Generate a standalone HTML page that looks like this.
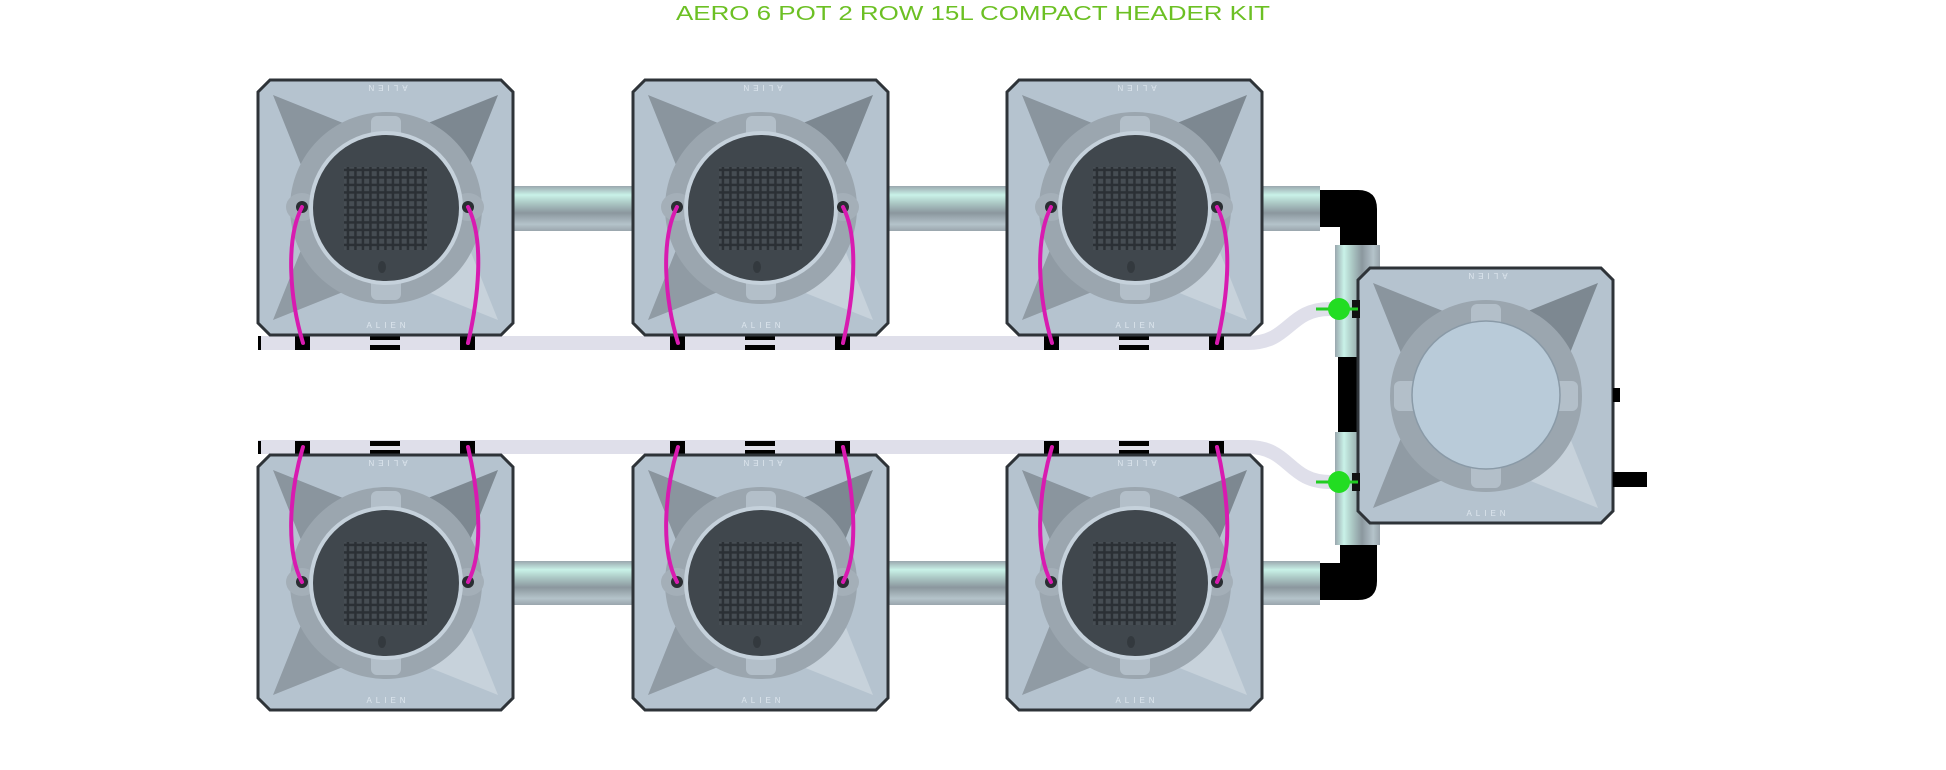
<!DOCTYPE html>
<html><head><meta charset="utf-8"><style>
html,body{margin:0;padding:0;background:#fff;width:1946px;height:770px;overflow:hidden}
svg{display:block}
</style></head><body>
<svg width="1946" height="770" viewBox="0 0 1946 770" xmlns="http://www.w3.org/2000/svg">
<defs>
<linearGradient id="ph" x1="0" y1="0" x2="0" y2="1">
<stop offset="0" stop-color="#9aa7ae"/><stop offset="0.2" stop-color="#c9f2e8"/><stop offset="0.35" stop-color="#b0cfca"/><stop offset="0.6" stop-color="#8b979e"/><stop offset="0.85" stop-color="#b4c3ca"/><stop offset="1" stop-color="#9aa6ad"/>
</linearGradient>
<linearGradient id="pv" x1="0" y1="0" x2="1" y2="0">
<stop offset="0" stop-color="#9aa7ae"/><stop offset="0.2" stop-color="#c9f2e8"/><stop offset="0.35" stop-color="#b0cfca"/><stop offset="0.6" stop-color="#8b979e"/><stop offset="0.85" stop-color="#b4c3ca"/><stop offset="1" stop-color="#9aa6ad"/>
</linearGradient>
<pattern id="grid" width="7.5" height="7.5" patternUnits="userSpaceOnUse">
<rect width="7.5" height="7.5" fill="#2b3035"/><rect x="1.2" y="1.2" width="5" height="5" fill="#464d53"/>
</pattern>
</defs>

<text x="973" y="20" text-anchor="middle" fill="#6cc024" font-family="Liberation Sans, sans-serif" font-size="20" textLength="594" lengthAdjust="spacingAndGlyphs">AERO 6 POT 2 ROW 15L COMPACT HEADER KIT</text>

<!-- pipes row1 -->
<rect x="510" y="186" width="126" height="45" fill="url(#ph)"/>
<rect x="884" y="186" width="126" height="45" fill="url(#ph)"/>
<rect x="1258" y="186" width="62" height="45" fill="url(#ph)"/>
<!-- pipes row2 -->
<rect x="510" y="561" width="126" height="44" fill="url(#ph)"/>
<rect x="884" y="561" width="126" height="44" fill="url(#ph)"/>
<rect x="1258" y="561" width="62" height="44" fill="url(#ph)"/>
<!-- elbows -->
<path d="M1320 190 H1358 Q1377 190 1377 209 V245 H1340 V227 H1320 Z" fill="#000"/>
<path d="M1320 600 H1358 Q1377 600 1377 581 V545 H1340 V563 H1320 Z" fill="#000"/>
<rect x="1338" y="355" width="22" height="78" fill="#000"/>
<rect x="1335" y="245" width="45" height="112" fill="url(#pv)"/>
<rect x="1335" y="432" width="45" height="113" fill="url(#pv)"/>

<!-- tubes -->
<path d="M258 343 H1248 C1290 343 1288 309 1330 309 H1340" fill="none" stroke="#dfdfea" stroke-width="14"/>
<path d="M258 447 H1248 C1290 447 1288 482 1330 482 H1340" fill="none" stroke="#dfdfea" stroke-width="14"/>
<rect x="258" y="336" width="3" height="14" fill="#000"/>
<rect x="258" y="441" width="3" height="13" fill="#000"/>

<!-- black fittings -->
<g fill="#000">
<rect x="295" y="336" width="15" height="14"/><rect x="460" y="336" width="15" height="14"/><rect x="370" y="336" width="30" height="4"/><rect x="370" y="345" width="30" height="5"/>
<rect x="670" y="336" width="15" height="14"/><rect x="835" y="336" width="15" height="14"/><rect x="745" y="336" width="30" height="4"/><rect x="745" y="345" width="30" height="5"/>
<rect x="1044" y="336" width="15" height="14"/><rect x="1209" y="336" width="15" height="14"/><rect x="1119" y="336" width="30" height="4"/><rect x="1119" y="345" width="30" height="5"/>
<rect x="295" y="441" width="15" height="14"/><rect x="460" y="441" width="15" height="14"/><rect x="370" y="441" width="30" height="5"/><rect x="370" y="450" width="30" height="4"/>
<rect x="670" y="441" width="15" height="14"/><rect x="835" y="441" width="15" height="14"/><rect x="745" y="441" width="30" height="5"/><rect x="745" y="450" width="30" height="4"/>
<rect x="1044" y="441" width="15" height="14"/><rect x="1209" y="441" width="15" height="14"/><rect x="1119" y="441" width="30" height="5"/><rect x="1119" y="450" width="30" height="4"/>
</g>

<!-- POTS -->
<g transform="translate(258,80)">
<polygon points="12,0 243,0 255,12 255,243 243,255 12,255 0,243 0,12" fill="#b5c3cf" stroke="#2e3338" stroke-width="3"/>
<polygon points="15,15 90,45 128,128 45,90" fill="#8a959e"/><polygon points="240,15 165,45 128,128 210,90" fill="#7d8891"/>
<polygon points="15,240 90,210 128,128 45,165" fill="#909ba4"/><polygon points="240,240 165,210 128,128 210,165" fill="#c7d2db"/>
<circle cx="128" cy="128" r="96" fill="#9ba6af"/>
<rect x="113" y="36" width="30" height="26" rx="6" fill="#b3bfc9"/><rect x="113" y="194" width="30" height="26" rx="6" fill="#b3bfc9"/>
<ellipse cx="44" cy="127" rx="16" ry="14" fill="#a4afb8"/><ellipse cx="210" cy="127" rx="16" ry="14" fill="#a4afb8"/>
<circle cx="128" cy="128" r="77" fill="#c5d1db"/><circle cx="128" cy="128" r="73" fill="#40474d"/>
<rect x="86" y="87" width="83" height="83" fill="url(#grid)"/>
<ellipse cx="124" cy="187" rx="4" ry="6" fill="#33393e"/>
<circle cx="44" cy="127" r="6" fill="#2a2e32"/><circle cx="210" cy="127" r="6" fill="#2a2e32"/>
<text x="128" y="11" transform="rotate(180 128 8)" text-anchor="middle" fill="#dde6ee" font-family="Liberation Sans, sans-serif" font-size="8" letter-spacing="4">ALIEN</text>
<text x="130" y="248" text-anchor="middle" fill="#dde6ee" font-family="Liberation Sans, sans-serif" font-size="8" letter-spacing="4">ALIEN</text>
</g>
<g transform="translate(633,80)">
<polygon points="12,0 243,0 255,12 255,243 243,255 12,255 0,243 0,12" fill="#b5c3cf" stroke="#2e3338" stroke-width="3"/>
<polygon points="15,15 90,45 128,128 45,90" fill="#8a959e"/><polygon points="240,15 165,45 128,128 210,90" fill="#7d8891"/>
<polygon points="15,240 90,210 128,128 45,165" fill="#909ba4"/><polygon points="240,240 165,210 128,128 210,165" fill="#c7d2db"/>
<circle cx="128" cy="128" r="96" fill="#9ba6af"/>
<rect x="113" y="36" width="30" height="26" rx="6" fill="#b3bfc9"/><rect x="113" y="194" width="30" height="26" rx="6" fill="#b3bfc9"/>
<ellipse cx="44" cy="127" rx="16" ry="14" fill="#a4afb8"/><ellipse cx="210" cy="127" rx="16" ry="14" fill="#a4afb8"/>
<circle cx="128" cy="128" r="77" fill="#c5d1db"/><circle cx="128" cy="128" r="73" fill="#40474d"/>
<rect x="86" y="87" width="83" height="83" fill="url(#grid)"/>
<ellipse cx="124" cy="187" rx="4" ry="6" fill="#33393e"/>
<circle cx="44" cy="127" r="6" fill="#2a2e32"/><circle cx="210" cy="127" r="6" fill="#2a2e32"/>
<text x="128" y="11" transform="rotate(180 128 8)" text-anchor="middle" fill="#dde6ee" font-family="Liberation Sans, sans-serif" font-size="8" letter-spacing="4">ALIEN</text>
<text x="130" y="248" text-anchor="middle" fill="#dde6ee" font-family="Liberation Sans, sans-serif" font-size="8" letter-spacing="4">ALIEN</text>
</g>
<g transform="translate(1007,80)">
<polygon points="12,0 243,0 255,12 255,243 243,255 12,255 0,243 0,12" fill="#b5c3cf" stroke="#2e3338" stroke-width="3"/>
<polygon points="15,15 90,45 128,128 45,90" fill="#8a959e"/><polygon points="240,15 165,45 128,128 210,90" fill="#7d8891"/>
<polygon points="15,240 90,210 128,128 45,165" fill="#909ba4"/><polygon points="240,240 165,210 128,128 210,165" fill="#c7d2db"/>
<circle cx="128" cy="128" r="96" fill="#9ba6af"/>
<rect x="113" y="36" width="30" height="26" rx="6" fill="#b3bfc9"/><rect x="113" y="194" width="30" height="26" rx="6" fill="#b3bfc9"/>
<ellipse cx="44" cy="127" rx="16" ry="14" fill="#a4afb8"/><ellipse cx="210" cy="127" rx="16" ry="14" fill="#a4afb8"/>
<circle cx="128" cy="128" r="77" fill="#c5d1db"/><circle cx="128" cy="128" r="73" fill="#40474d"/>
<rect x="86" y="87" width="83" height="83" fill="url(#grid)"/>
<ellipse cx="124" cy="187" rx="4" ry="6" fill="#33393e"/>
<circle cx="44" cy="127" r="6" fill="#2a2e32"/><circle cx="210" cy="127" r="6" fill="#2a2e32"/>
<text x="128" y="11" transform="rotate(180 128 8)" text-anchor="middle" fill="#dde6ee" font-family="Liberation Sans, sans-serif" font-size="8" letter-spacing="4">ALIEN</text>
<text x="130" y="248" text-anchor="middle" fill="#dde6ee" font-family="Liberation Sans, sans-serif" font-size="8" letter-spacing="4">ALIEN</text>
</g>
<g transform="translate(258,455)">
<polygon points="12,0 243,0 255,12 255,243 243,255 12,255 0,243 0,12" fill="#b5c3cf" stroke="#2e3338" stroke-width="3"/>
<polygon points="15,15 90,45 128,128 45,90" fill="#8a959e"/><polygon points="240,15 165,45 128,128 210,90" fill="#7d8891"/>
<polygon points="15,240 90,210 128,128 45,165" fill="#909ba4"/><polygon points="240,240 165,210 128,128 210,165" fill="#c7d2db"/>
<circle cx="128" cy="128" r="96" fill="#9ba6af"/>
<rect x="113" y="36" width="30" height="26" rx="6" fill="#b3bfc9"/><rect x="113" y="194" width="30" height="26" rx="6" fill="#b3bfc9"/>
<ellipse cx="44" cy="127" rx="16" ry="14" fill="#a4afb8"/><ellipse cx="210" cy="127" rx="16" ry="14" fill="#a4afb8"/>
<circle cx="128" cy="128" r="77" fill="#c5d1db"/><circle cx="128" cy="128" r="73" fill="#40474d"/>
<rect x="86" y="87" width="83" height="83" fill="url(#grid)"/>
<ellipse cx="124" cy="187" rx="4" ry="6" fill="#33393e"/>
<circle cx="44" cy="127" r="6" fill="#2a2e32"/><circle cx="210" cy="127" r="6" fill="#2a2e32"/>
<text x="128" y="11" transform="rotate(180 128 8)" text-anchor="middle" fill="#dde6ee" font-family="Liberation Sans, sans-serif" font-size="8" letter-spacing="4">ALIEN</text>
<text x="130" y="248" text-anchor="middle" fill="#dde6ee" font-family="Liberation Sans, sans-serif" font-size="8" letter-spacing="4">ALIEN</text>
</g>
<g transform="translate(633,455)">
<polygon points="12,0 243,0 255,12 255,243 243,255 12,255 0,243 0,12" fill="#b5c3cf" stroke="#2e3338" stroke-width="3"/>
<polygon points="15,15 90,45 128,128 45,90" fill="#8a959e"/><polygon points="240,15 165,45 128,128 210,90" fill="#7d8891"/>
<polygon points="15,240 90,210 128,128 45,165" fill="#909ba4"/><polygon points="240,240 165,210 128,128 210,165" fill="#c7d2db"/>
<circle cx="128" cy="128" r="96" fill="#9ba6af"/>
<rect x="113" y="36" width="30" height="26" rx="6" fill="#b3bfc9"/><rect x="113" y="194" width="30" height="26" rx="6" fill="#b3bfc9"/>
<ellipse cx="44" cy="127" rx="16" ry="14" fill="#a4afb8"/><ellipse cx="210" cy="127" rx="16" ry="14" fill="#a4afb8"/>
<circle cx="128" cy="128" r="77" fill="#c5d1db"/><circle cx="128" cy="128" r="73" fill="#40474d"/>
<rect x="86" y="87" width="83" height="83" fill="url(#grid)"/>
<ellipse cx="124" cy="187" rx="4" ry="6" fill="#33393e"/>
<circle cx="44" cy="127" r="6" fill="#2a2e32"/><circle cx="210" cy="127" r="6" fill="#2a2e32"/>
<text x="128" y="11" transform="rotate(180 128 8)" text-anchor="middle" fill="#dde6ee" font-family="Liberation Sans, sans-serif" font-size="8" letter-spacing="4">ALIEN</text>
<text x="130" y="248" text-anchor="middle" fill="#dde6ee" font-family="Liberation Sans, sans-serif" font-size="8" letter-spacing="4">ALIEN</text>
</g>
<g transform="translate(1007,455)">
<polygon points="12,0 243,0 255,12 255,243 243,255 12,255 0,243 0,12" fill="#b5c3cf" stroke="#2e3338" stroke-width="3"/>
<polygon points="15,15 90,45 128,128 45,90" fill="#8a959e"/><polygon points="240,15 165,45 128,128 210,90" fill="#7d8891"/>
<polygon points="15,240 90,210 128,128 45,165" fill="#909ba4"/><polygon points="240,240 165,210 128,128 210,165" fill="#c7d2db"/>
<circle cx="128" cy="128" r="96" fill="#9ba6af"/>
<rect x="113" y="36" width="30" height="26" rx="6" fill="#b3bfc9"/><rect x="113" y="194" width="30" height="26" rx="6" fill="#b3bfc9"/>
<ellipse cx="44" cy="127" rx="16" ry="14" fill="#a4afb8"/><ellipse cx="210" cy="127" rx="16" ry="14" fill="#a4afb8"/>
<circle cx="128" cy="128" r="77" fill="#c5d1db"/><circle cx="128" cy="128" r="73" fill="#40474d"/>
<rect x="86" y="87" width="83" height="83" fill="url(#grid)"/>
<ellipse cx="124" cy="187" rx="4" ry="6" fill="#33393e"/>
<circle cx="44" cy="127" r="6" fill="#2a2e32"/><circle cx="210" cy="127" r="6" fill="#2a2e32"/>
<text x="128" y="11" transform="rotate(180 128 8)" text-anchor="middle" fill="#dde6ee" font-family="Liberation Sans, sans-serif" font-size="8" letter-spacing="4">ALIEN</text>
<text x="130" y="248" text-anchor="middle" fill="#dde6ee" font-family="Liberation Sans, sans-serif" font-size="8" letter-spacing="4">ALIEN</text>
</g>

<!-- pink tubes -->
<g fill="none" stroke="#d81bb0" stroke-width="4" stroke-linecap="round">
<path d="M302 207 C285 240 290 300 303 343"/><path d="M468 207 C485 240 478 300 468 343"/>
<path d="M677 207 C660 240 665 300 678 343"/><path d="M843 207 C860 240 853 300 843 343"/>
<path d="M1051 207 C1034 240 1039 300 1052 343"/><path d="M1217 207 C1234 240 1227 300 1217 343"/>
<path d="M302 582 C285 550 290 490 303 447"/><path d="M468 582 C485 550 478 490 468 447"/>
<path d="M677 582 C660 550 665 490 678 447"/><path d="M843 582 C860 550 853 490 843 447"/>
<path d="M1051 582 C1034 550 1039 490 1052 447"/><path d="M1217 582 C1234 550 1227 490 1217 447"/>
</g>

<!-- header tank -->
<g transform="translate(1358,268)">
<polygon points="12,0 243,0 255,12 255,243 243,255 12,255 0,243 0,12" fill="#b5c3cf" stroke="#2e3338" stroke-width="3"/>
<polygon points="15,15 90,45 128,128 45,90" fill="#8a959e"/><polygon points="240,15 165,45 128,128 210,90" fill="#7d8891"/>
<polygon points="15,240 90,210 128,128 45,165" fill="#909ba4"/><polygon points="240,240 165,210 128,128 210,165" fill="#c7d2db"/>
<circle cx="128" cy="128" r="96" fill="#9ba6af"/>
<rect x="113" y="36" width="30" height="26" rx="6" fill="#b3bfc9"/><rect x="113" y="194" width="30" height="26" rx="6" fill="#b3bfc9"/>
<rect x="36" y="113" width="26" height="30" rx="6" fill="#b3bfc9"/><rect x="194" y="113" width="26" height="30" rx="6" fill="#b3bfc9"/>
<circle cx="128" cy="127" r="74" fill="#b9cbd9" stroke="#8a9aa7" stroke-width="1.5"/>
<text x="128" y="11" transform="rotate(180 128 8)" text-anchor="middle" fill="#dde6ee" font-family="Liberation Sans, sans-serif" font-size="8" letter-spacing="4">ALIEN</text>
<text x="130" y="248" text-anchor="middle" fill="#dde6ee" font-family="Liberation Sans, sans-serif" font-size="8" letter-spacing="4">ALIEN</text>
</g>
<rect x="1613" y="388" width="7" height="14" fill="#000"/>
<rect x="1613" y="472" width="34" height="15" fill="#000"/>

<!-- valves -->
<rect x="1352" y="300" width="8" height="18" fill="#111"/>
<rect x="1352" y="473" width="8" height="18" fill="#111"/>
<line x1="1316" y1="309" x2="1358" y2="309" stroke="#22cc22" stroke-width="3"/>
<circle cx="1339" cy="309" r="11" fill="#22dd22"/>
<line x1="1316" y1="482" x2="1358" y2="482" stroke="#22cc22" stroke-width="3"/>
<circle cx="1339" cy="482" r="11" fill="#22dd22"/>
</svg>
</body></html>
